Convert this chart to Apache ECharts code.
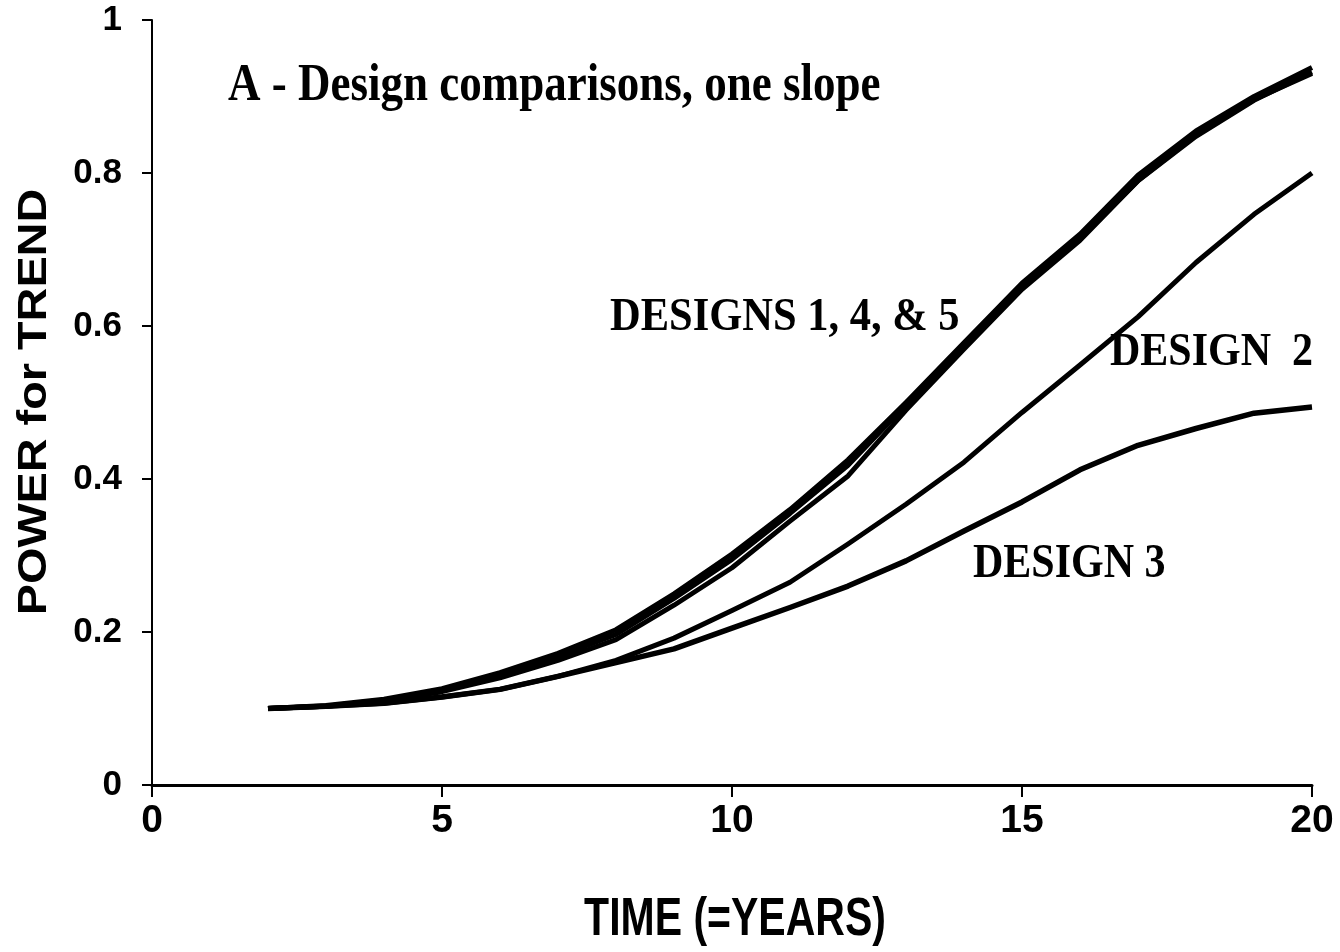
<!DOCTYPE html>
<html>
<head>
<meta charset="utf-8">
<title>Power for trend by design</title>
<script src="https://cdn.jsdelivr.net/npm/echarts@6/dist/echarts.min.js"></script>
<style>
  html, body { margin: 0; padding: 0; background: #fff; }
  #chart { width: 1340px; height: 952px; }
</style>
</head>
<body>
<div id="chart"></div>
<script>
// Years of monitoring (x) and power to detect the trend (y) for each design
const years = [2, 3, 4, 5, 6, 7, 8, 9, 10, 11, 12, 13, 14, 15, 16, 17, 18, 19, 20];
const design1 = [0.100, 0.104, 0.112, 0.126, 0.147, 0.172, 0.203, 0.250, 0.302, 0.360, 0.425, 0.500, 0.578, 0.656, 0.720, 0.797, 0.855, 0.900, 0.938];
const design4 = [0.100, 0.103, 0.111, 0.124, 0.144, 0.168, 0.197, 0.244, 0.295, 0.355, 0.418, 0.497, 0.573, 0.650, 0.714, 0.790, 0.848, 0.895, 0.932];
const design5 = [0.100, 0.103, 0.110, 0.122, 0.140, 0.163, 0.190, 0.235, 0.284, 0.345, 0.404, 0.490, 0.570, 0.648, 0.712, 0.790, 0.850, 0.896, 0.930];
const design2 = [0.100, 0.103, 0.107, 0.115, 0.125, 0.142, 0.163, 0.192, 0.228, 0.265, 0.315, 0.367, 0.422, 0.487, 0.549, 0.612, 0.683, 0.746, 0.800];
const design3 = [0.100, 0.103, 0.107, 0.115, 0.125, 0.142, 0.160, 0.178, 0.205, 0.232, 0.260, 0.293, 0.332, 0.370, 0.412, 0.444, 0.466, 0.486, 0.494];

const xTicks = { min: 0, max: 20, interval: 5 };
const yTicks = { min: 0, max: 1, interval: 0.2 };

const SANS = "'Liberation Sans', Arial, sans-serif";
const SERIF = "'Liberation Serif', 'Times New Roman', serif";

function pairs(values) {
  return years.map((y, i) => [y, values[i]]);
}

function lineSeries(name, values, width) {
  return {
    name: name,
    type: 'line',
    data: pairs(values),
    showSymbol: false,
    symbol: 'none',
    smooth: false,
    lineStyle: { color: '#000', width: width, join: 'round' },
    emphasis: { disabled: true },
    silent: true
  };
}

const chart = echarts.init(document.getElementById('chart'), null, { renderer: 'canvas' });

chart.setOption({
  animation: false,
  backgroundColor: '#fff',
  grid: { left: 152, right: 28, top: 20, bottom: 167, containLabel: false },
  xAxis: {
    type: 'value',
    min: xTicks.min,
    max: xTicks.max,
    interval: xTicks.interval,
    splitLine: { show: false },
    axisLine: { show: true, lineStyle: { color: '#000', width: 3 } },
    axisTick: { show: true, length: 12, lineStyle: { color: '#000', width: 2 } },
    axisLabel: {
      color: '#000', fontFamily: SANS, fontWeight: 'bold', fontSize: 39, margin: 17
    }
  },
  yAxis: {
    type: 'value',
    min: yTicks.min,
    max: yTicks.max,
    interval: yTicks.interval,
    splitLine: { show: false },
    axisLine: { show: true, onZero: false, lineStyle: { color: '#000', width: 2 } },
    axisTick: { show: true, length: 10, lineStyle: { color: '#000', width: 2 } },
    axisLabel: {
      color: '#000', fontFamily: SANS, fontWeight: 'bold', fontSize: 35, margin: 30
    }
  },
  graphic: [
    {
      type: 'text', x: 35, y: 402, rotation: Math.PI / 2, scaleX: 1.17,
      style: { text: 'POWER for TREND', font: 'bold 40px ' + SANS, fill: '#000', textAlign: 'center', textVerticalAlign: 'middle' }
    },
    {
      type: 'text', x: 735, y: 920, scaleY: 1.3,
      style: { text: 'TIME (=YEARS)', font: 'bold 41px ' + SANS, fill: '#000', textAlign: 'center', textVerticalAlign: 'middle' }
    },
    {
      type: 'text', x: 228, y: 86, scaleY: 1.17,
      style: { text: 'A - Design comparisons, one slope', font: 'bold 45px ' + SERIF, fill: '#000', textAlign: 'left', textVerticalAlign: 'middle' }
    },
    {
      type: 'text', x: 610, y: 318, scaleY: 1.1,
      style: { text: 'DESIGNS 1, 4, & 5', font: 'bold 42.5px ' + SERIF, fill: '#000', textAlign: 'left', textVerticalAlign: 'middle' }
    },
    {
      type: 'text', x: 1110, y: 353, scaleY: 1.12,
      style: { text: 'DESIGN  2', font: 'bold 42px ' + SERIF, fill: '#000', textAlign: 'left', textVerticalAlign: 'middle' }
    },
    {
      type: 'text', x: 973, y: 565, scaleY: 1.15,
      style: { text: 'DESIGN 3', font: 'bold 42px ' + SERIF, fill: '#000', textAlign: 'left', textVerticalAlign: 'middle' }
    }
  ],
  series: [
    lineSeries('Design 1', design1, 5),
    lineSeries('Design 4', design4, 5),
    lineSeries('Design 5', design5, 5),
    lineSeries('Design 2', design2, 5),
    lineSeries('Design 3', design3, 5.5)
  ]
});
</script>
</body>
</html>
